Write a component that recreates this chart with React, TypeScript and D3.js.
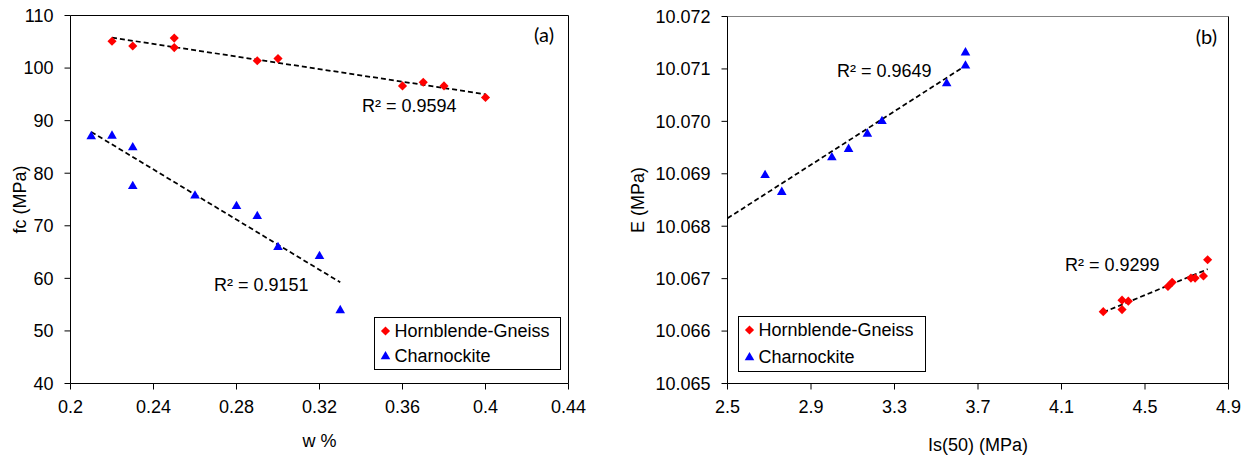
import React from "react";
import * as d3 from "d3";

// ---------- Panel (a): fc vs w % ----------
const aHornW = [0.22, 0.23, 0.25, 0.25, 0.29, 0.30, 0.36, 0.37, 0.38, 0.40];
const aHornFc = [105.1, 104.2, 105.7, 103.9, 101.4, 101.8, 96.6, 97.3, 96.6, 94.4];
const aCharW = [0.21, 0.22, 0.23, 0.23, 0.26, 0.28, 0.29, 0.30, 0.32, 0.33];
const aCharFc = [87.1, 87.2, 85.0, 77.6, 75.8, 73.8, 71.9, 66.0, 64.3, 54.0];
const aXTicks = [0.2, 0.24, 0.28, 0.32, 0.36, 0.4, 0.44];
const aXTickLabels = ["0.2", "0.24", "0.28", "0.32", "0.36", "0.4", "0.44"];
const aYTicks = [40, 50, 60, 70, 80, 90, 100, 110];
const aYTickLabels = ["40", "50", "60", "70", "80", "90", "100", "110"];
const aR2Horn = "R² = 0.9594";
const aR2Char = "R² = 0.9151";

// ---------- Panel (b): E vs Is(50) ----------
const bHornIs = [4.30, 4.39, 4.39, 4.42, 4.61, 4.63, 4.72, 4.74, 4.78, 4.80];
const bHornE = [10.06637, 10.06641, 10.06659, 10.06657, 10.06685, 10.06693, 10.06701, 10.06701, 10.06705, 10.06736];
const bCharIs = [2.68, 2.76, 3.00, 3.08, 3.17, 3.24, 3.55, 3.64, 3.64];
const bCharE = [10.06898, 10.06866, 10.06932, 10.06948, 10.06977, 10.07001, 10.07073, 10.07107, 10.07132];
const bXTicks = [2.5, 2.9, 3.3, 3.7, 4.1, 4.5, 4.9];
const bXTickLabels = ["2.5", "2.9", "3.3", "3.7", "4.1", "4.5", "4.9"];
const bYTicks = [10.065, 10.066, 10.067, 10.068, 10.069, 10.07, 10.071, 10.072];
const bYTickLabels = ["10.065", "10.066", "10.067", "10.068", "10.069", "10.070", "10.071", "10.072"];
const bR2Horn = "R² = 0.9299";
const bR2Char = "R² = 0.9649";

const seriesNames = ["Hornblende-Gneiss", "Charnockite"];

const FONT = "'Liberation Sans', Arial, sans-serif";
const RED = "#FF0000";
const BLUE = "#0000FF";

function fit(xs: number[], ys: number[]) {
  const mx = d3.mean(xs)!;
  const my = d3.mean(ys)!;
  let sxy = 0, sxx = 0;
  xs.forEach((x, i) => {
    sxy += (x - mx) * (ys[i] - my);
    sxx += (x - mx) * (x - mx);
  });
  const slope = sxy / sxx;
  const icpt = my - slope * mx;
  return (x: number) => icpt + slope * x;
}

const diamondPath = d3.symbol(d3.symbolSquare, 42)()!;
const trianglePath = d3.symbol(d3.symbolTriangle, 40)()!;

function Diamond({ x, y }: { x: number; y: number }) {
  return <path d={diamondPath} transform={`translate(${x},${y}) rotate(45)`} fill={RED} />;
}
function Triangle({ x, y }: { x: number; y: number }) {
  return <path d={trianglePath} transform={`translate(${x},${y + 0.5})`} fill={BLUE} />;
}

type PanelProps = {
  left: number; right: number; top: number; bottom: number;
  xDomain: [number, number]; yDomain: [number, number];
  xTicks: number[]; xTickLabels: string[];
  yTicks: number[]; yTickLabels: string[];
  hornX: number[]; hornY: number[]; charX: number[]; charY: number[];
  charFitFrom: number;
  r2Horn: string; r2HornPos: [number, number];
  r2Char: string; r2CharPos: [number, number];
  xTitle: string; xTitleY: number; yTitle: string; yTitleX: number;
  tag: string; tagPos: [number, number];
  legend: { x: number; y: number; w: number; h: number; row1: number; row2: number };
  topColor: string;
};

function Panel(p: PanelProps) {
  const x = d3.scaleLinear().domain(p.xDomain).range([p.left, p.right]);
  const y = d3.scaleLinear().domain(p.yDomain).range([p.bottom, p.top]);
  const hf = fit(p.hornX, p.hornY);
  const cf = fit(p.charX, p.charY);
  const hx0 = d3.min(p.hornX)!, hx1 = d3.max(p.hornX)!;
  const cx0 = p.charFitFrom, cx1 = d3.max(p.charX)!;
  const fs = 18;
  return (
    <g fontFamily={FONT} fill="#000">
      {/* frame */}
      <line x1={p.left} x2={p.right} y1={p.top} y2={p.top} stroke={p.topColor} strokeWidth={1} />
      <line x1={p.right} x2={p.right} y1={p.top} y2={p.bottom} stroke="#000" strokeWidth={1} />
      <line x1={p.left} x2={p.left} y1={p.top} y2={p.bottom} stroke="#000" strokeWidth={1} />
      <line x1={p.left} x2={p.right} y1={p.bottom} y2={p.bottom} stroke="#000" strokeWidth={1} />
      {/* y ticks */}
      {p.yTicks.map((t, i) => (
        <g key={"y" + i}>
          <line x1={p.left - 6} x2={p.left} y1={y(t)} y2={y(t)} stroke="#000" />
          <text x={p.left - 17} y={y(t)} dy="0.35em" textAnchor="end" fontSize={fs}>{p.yTickLabels[i]}</text>
        </g>
      ))}
      {/* x ticks */}
      {p.xTicks.map((t, i) => (
        <g key={"x" + i}>
          <line x1={x(t)} x2={x(t)} y1={p.bottom} y2={p.bottom + 6} stroke="#000" />
          <text x={x(t)} y={p.bottom + 29} textAnchor="middle" fontSize={fs}>{p.xTickLabels[i]}</text>
        </g>
      ))}
      {/* titles */}
      <text x={(p.left + p.right) / 2} y={p.xTitleY} textAnchor="middle" fontSize={fs}>{p.xTitle}</text>
      <text transform={`translate(${p.yTitleX},${(p.top + p.bottom) / 2}) rotate(-90)`} textAnchor="middle" dy="0.35em" fontSize={fs}>{p.yTitle}</text>
      {/* trendlines */}
      <line x1={x(hx0)} y1={y(hf(hx0))} x2={x(hx1)} y2={y(hf(hx1))} stroke="#000" strokeWidth={1.75} strokeDasharray="5,3" />
      <line x1={x(cx0)} y1={y(cf(cx0))} x2={x(cx1)} y2={y(cf(cx1))} stroke="#000" strokeWidth={1.75} strokeDasharray="5,3" />
      {/* points */}
      {p.hornX.map((v, i) => <Diamond key={"h" + i} x={x(v)} y={y(p.hornY[i])} />)}
      {p.charX.map((v, i) => <Triangle key={"c" + i} x={x(v)} y={y(p.charY[i])} />)}
      {/* R2 labels */}
      <text x={p.r2HornPos[0]} y={p.r2HornPos[1]} fontSize={fs}>{p.r2Horn}</text>
      <text x={p.r2CharPos[0]} y={p.r2CharPos[1]} fontSize={fs}>{p.r2Char}</text>
      {/* tag */}
      <text x={p.tagPos[0]} y={p.tagPos[1]} textAnchor="end" fontSize={20} fontFamily="Lato, 'Open Sans', sans-serif">{p.tag}</text>
      {/* legend */}
      <rect x={p.legend.x} y={p.legend.y} width={p.legend.w} height={p.legend.h} fill="#fff" stroke="#000" strokeWidth={1} />
      <Diamond x={p.legend.x + 11} y={p.legend.row1} />
      <text x={p.legend.x + 20} y={p.legend.row1} dy="0.35em" fontSize={fs}>{seriesNames[0]}</text>
      <Triangle x={p.legend.x + 11} y={p.legend.row2} />
      <text x={p.legend.x + 20} y={p.legend.row2} dy="0.35em" fontSize={fs}>{seriesNames[1]}</text>
    </g>
  );
}

export default function App() {
  return (
    <svg width={1257} height={457} style={{ position: "absolute", left: 0, top: 0, background: "#fff" }}>
      <rect width={1257} height={457} fill="#fff" />
      <Panel
        left={70.5} right={568.5} top={15.5} bottom={383.5}
        xDomain={[0.2, 0.44]} yDomain={[40, 110]}
        xTicks={aXTicks} xTickLabels={aXTickLabels}
        yTicks={aYTicks} yTickLabels={aYTickLabels}
        hornX={aHornW} hornY={aHornFc} charX={aCharW} charY={aCharFc}
        charFitFrom={d3.min(aCharW)!}
        r2Horn={aR2Horn} r2HornPos={[362, 112]}
        r2Char={aR2Char} r2CharPos={[214, 291]}
        xTitle="w %" xTitleY={447} yTitle="fc (MPa)" yTitleX={20}
        tag="(a)" tagPos={[554, 42]}
        legend={{ x: 374.5, y: 317.5, w: 186, h: 52, row1: 331, row2: 356 }}
        topColor="#000"
      />
      <Panel
        left={727.5} right={1228.5} top={16.5} bottom={383.5}
        xDomain={[2.5, 4.9]} yDomain={[10.065, 10.072]}
        xTicks={bXTicks} xTickLabels={bXTickLabels}
        yTicks={bYTicks} yTickLabels={bYTickLabels}
        hornX={bHornIs} hornY={bHornE} charX={bCharIs} charY={bCharE}
        charFitFrom={2.5}
        r2Horn={bR2Horn} r2HornPos={[1065, 271]}
        r2Char={bR2Char} r2CharPos={[837, 77]}
        xTitle="Is(50) (MPa)" xTitleY={451} yTitle="E (MPa)" yTitleX={638}
        tag="(b)" tagPos={[1217, 44]}
        legend={{ x: 738.5, y: 316.5, w: 187, h: 55, row1: 330, row2: 357 }}
        topColor="#808080"
      />
    </svg>
  );
}
